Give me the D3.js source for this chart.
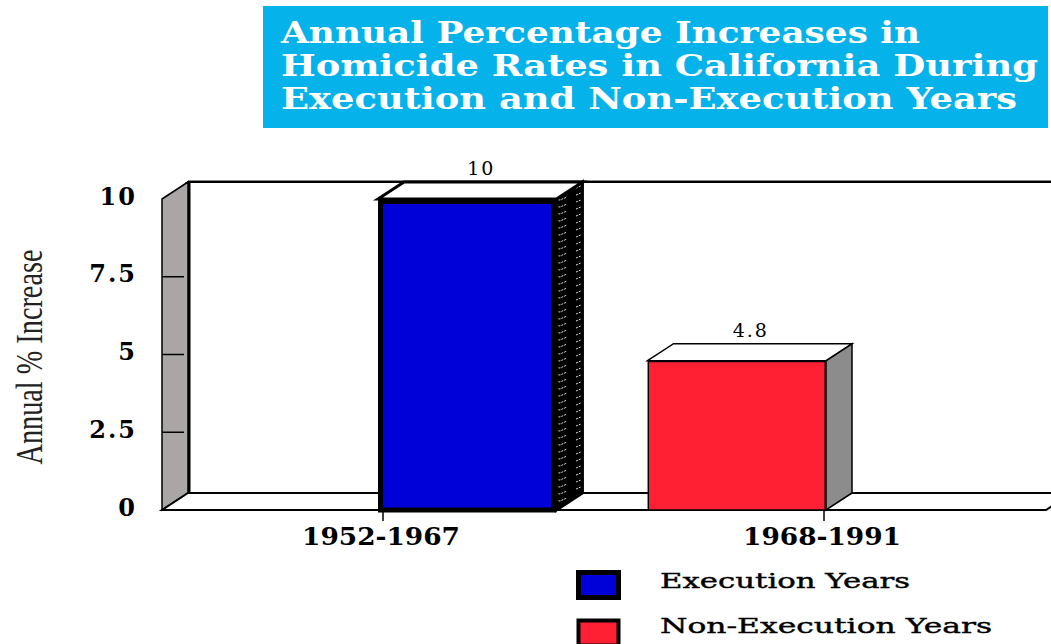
<!DOCTYPE html>
<html>
<head>
<meta charset="utf-8">
<script src="https://cdn.jsdelivr.net/npm/d3@7"></script>
<style>
  html, body { margin: 0; padding: 0; background: #ffffff; }
  svg { display: block; }
</style>
</head>
<body>
<svg id="chart" width="1051" height="644"></svg>
<script>
// ---------- data ----------
const categories = ["1952-1967", "1968-1991"];
const values = [10, 4.8];
const valueLabels = ["10", "4.8"];
const seriesNames = ["Execution Years", "Non-Execution Years"];
const yTicks = [0, 2.5, 5, 7.5, 10];
const titleLines = [
  "Annual Percentage Increases in",
  "Homicide Rates in California During",
  "Execution and Non-Execution Years"
];
const yAxisTitle = "Annual % Increase";

// ---------- styles ----------
const barFill = ["#0000d8", "#ff2033"];
const sideFill = ["url(#hatch)", "#8c8c8c"];
const barStroke = [5, 1.5];

const svg = d3.select("#chart");
const W = 1051, H = 644;

// depth offsets for 3D
const DX = 26, DY = 17;

const x = d3.scaleBand().domain(categories).range([378, 826]).paddingInner(0.338).paddingOuter(0);
const y = d3.scaleLinear().domain([0, 10]).range([510, 199]);

const frontLeft = 162, frontRight = 1046;
const y0 = y(0), yTop = y(10);

// pattern for hatched side
const defs = svg.append("defs");
const pat = defs.append("pattern").attr("id", "hatch").attr("patternUnits", "userSpaceOnUse")
  .attr("width", 26).attr("height", 7);
pat.append("rect").attr("width", 26).attr("height", 7).attr("fill", "#000");
pat.append("path").attr("d", "M4,6 L10,3.5 L14,4 L21,1").attr("stroke", "#d8d8d8")
  .attr("stroke-width", 1).attr("fill", "none").attr("stroke-dasharray", "2,1");

// ---------- title ----------
svg.append("rect").attr("x", 263).attr("y", 6).attr("width", 785).attr("height", 122).attr("fill", "#06b2ea");
const titleWidths = [639, 757, 736];
const titleBase = [43, 76, 109];
svg.selectAll("text.title").data(titleLines).join("text")
  .attr("class", "title")
  .attr("x", 281).attr("y", (d, i) => titleBase[i])
  .attr("textLength", (d, i) => titleWidths[i]).attr("lengthAdjust", "spacingAndGlyphs")
  .attr("fill", "#ffffff").attr("font-family", "'DejaVu Serif', serif").attr("font-weight", "bold")
  .attr("font-size", 29).text(d => d);

// ---------- 3D frame ----------
// back wall
svg.append("rect").attr("x", frontLeft + DX).attr("y", yTop - DY).attr("width", W).attr("height", y0 - yTop)
  .attr("fill", "#ffffff").attr("stroke", "#000").attr("stroke-width", 2);
svg.append("line").attr("x1", frontLeft + DX).attr("x2", frontLeft + DX).attr("y1", yTop - DY).attr("y2", y0 - DY)
  .attr("stroke", "#000").attr("stroke-width", 5);
svg.append("line").attr("x1", frontLeft + DX).attr("x2", W).attr("y1", yTop - DY - 1.5).attr("y2", yTop - DY - 1.5)
  .attr("stroke", "#888").attr("stroke-width", 1);

// left side wall
svg.append("path")
  .attr("d", `M${frontLeft},${yTop} L${frontLeft + DX},${yTop - DY} L${frontLeft + DX},${y0 - DY} L${frontLeft},${y0} Z`)
  .attr("fill", "#aba6a6").attr("stroke", "#000").attr("stroke-width", 1.5);
svg.selectAll("line.sidetick").data(yTicks.filter(t => t > 0 && t < 10)).join("line")
  .attr("class", "sidetick")
  .attr("x1", frontLeft).attr("x2", frontLeft + DX - 4)
  .attr("y1", d => y(d)).attr("y2", d => y(d))
  .attr("stroke", "#000").attr("stroke-width", 1.5);

// floor
svg.append("path")
  .attr("d", `M${frontLeft},${y0} L${frontLeft + DX},${y0 - DY} L${frontRight + DX},${y0 - DY} L${frontRight},${y0} Z`)
  .attr("fill", "#ffffff").attr("stroke", "#000").attr("stroke-width", 2);

// ---------- bars ----------
const bars = svg.selectAll("g.bar").data(values).join("g").attr("class", "bar");
bars.each(function (v, i) {
  const g = d3.select(this);
  const x0 = x(categories[i]), bw = x.bandwidth();
  const yt = y(v);
  // side face
  g.append("path")
    .attr("d", `M${x0 + bw},${yt} L${x0 + bw + DX},${yt - DY} L${x0 + bw + DX},${y0 - DY} L${x0 + bw},${y0} Z`)
    .attr("fill", sideFill[i]).attr("stroke", "#000").attr("stroke-width", i === 0 ? 3 : 1.5);
  // top face
  g.append("path")
    .attr("d", `M${x0},${yt} L${x0 + DX},${yt - DY} L${x0 + bw + DX},${yt - DY} L${x0 + bw},${yt} Z`)
    .attr("fill", "#ffffff").attr("stroke", "#000").attr("stroke-width", i === 0 ? 3 : 1.5);
  // front face
  const s = barStroke[i];
  g.append("rect")
    .attr("x", x0 + s / 2).attr("y", yt + s / 2).attr("width", bw - s).attr("height", y0 - yt - s / 2)
    .attr("fill", barFill[i]).attr("stroke", "#000").attr("stroke-width", s);
  // value label
  g.append("text")
    .attr("x", x0 + bw / 2 + DX / 2 + 1).attr("y", yt - DY - 7)
    .attr("text-anchor", "middle").attr("font-family", "'DejaVu Serif', serif").attr("font-size", 19)
    .attr("letter-spacing", 2).attr("fill", "#000").text(valueLabels[i]);
});

// ---------- y axis ----------
const yAxis = d3.axisLeft(y).tickValues(yTicks).tickSize(0).tickPadding(25).tickFormat(d => String(d));
const ya = svg.append("g").attr("transform", `translate(${frontLeft},0)`).call(yAxis);
ya.select(".domain").remove();
ya.selectAll("text").attr("font-family", "'DejaVu Serif', serif").attr("font-weight", "bold")
  .attr("font-size", 24).attr("letter-spacing", 2).attr("fill", "#000").attr("dy", "0.3em")
  .attr("transform", "translate(0,-2)");

svg.append("text")
  .attr("transform", "translate(42,357) rotate(-90)")
  .attr("text-anchor", "middle")
  .attr("textLength", 215).attr("lengthAdjust", "spacingAndGlyphs")
  .attr("font-family", "'Liberation Serif', serif").attr("font-size", 38).attr("fill", "#222")
  .text(yAxisTitle);

// ---------- x axis labels ----------
const tickX = categories.map((c, i) => i === 0 ? x(c) + 5 : x(c) + x.bandwidth() - 2);
svg.selectAll("line.xtick").data(categories).join("line").attr("class", "xtick")
  .attr("x1", (d, i) => tickX[i]).attr("x2", (d, i) => tickX[i])
  .attr("y1", y0).attr("y2", y0 + 11).attr("stroke", "#000").attr("stroke-width", 1.5);
svg.selectAll("text.xlab").data(categories).join("text").attr("class", "xlab")
  .attr("x", (d, i) => tickX[i] - 2).attr("y", 545)
  .attr("text-anchor", "middle")
  .attr("textLength", 158).attr("lengthAdjust", "spacingAndGlyphs")
  .attr("font-family", "'DejaVu Serif', serif").attr("font-weight", "bold").attr("font-size", 25)
  .attr("fill", "#000").text(d => d);

// ---------- legend ----------
const legY = [570, 618];
const legText = [250, 332];
const leg = svg.selectAll("g.leg").data(seriesNames).join("g").attr("class", "leg");
leg.append("rect")
  .attr("x", 578.5).attr("y", (d, i) => legY[i] + 2.5).attr("width", 40).attr("height", 25)
  .attr("fill", (d, i) => barFill[i]).attr("stroke", "#000").attr("stroke-width", (d, i) => i === 0 ? 5 : 4);
leg.append("text")
  .attr("x", 660).attr("y", (d, i) => legY[i] + 18 + (i === 1 ? -3 : 0))
  .attr("textLength", (d, i) => legText[i]).attr("lengthAdjust", "spacingAndGlyphs")
  .attr("font-family", "'DejaVu Serif', serif").attr("font-size", 21).attr("fill", "#000")
  .attr("stroke", "#000").attr("stroke-width", 0.4)
  .text(d => d);
</script>
</body>
</html>
